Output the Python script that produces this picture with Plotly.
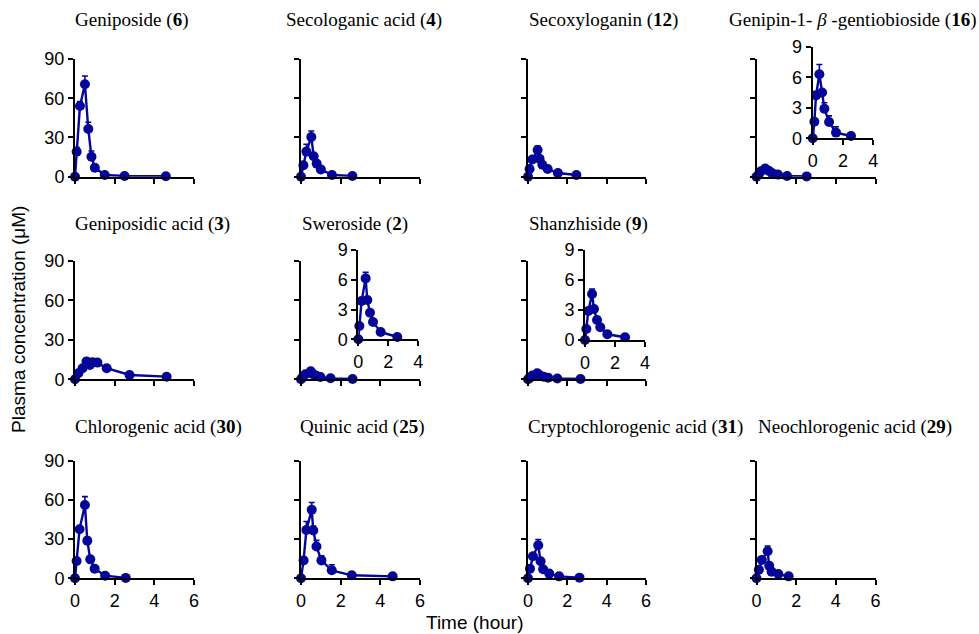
import plotly.graph_objects as go

W, H = 979, 634

# ---------------- data (time in hour, concentration in uM, SD) ----------------
t_geniposide = [0, 0.083, 0.25, 0.5, 0.67, 0.83, 1.0, 1.5, 2.5, 4.58]
c_geniposide = [0, 19.1, 54.0, 70.7, 36.5, 15.3, 6.9, 1.3, 0.5, 0.4]
e_geniposide = [0, 3.3, 3.4, 6.3, 5.1, 4.4, 2.1, 0.8, 0.3, 0.3]

t_secologanic = [0, 0.12, 0.27, 0.52, 0.64, 0.79, 1.0, 1.56, 2.59]
c_secologanic = [0, 8.7, 19.2, 30.4, 15.6, 10.0, 5.6, 1.3, 0.5]
e_secologanic = [0, 1.5, 5.6, 4.6, 1.5, 1.2, 0.8, 0.3, 0.2]

t_secoxyloganin = [0, 0.08, 0.22, 0.49, 0.59, 0.73, 1.0, 1.52, 2.46]
c_secoxyloganin = [0, 5.9, 13.2, 20.4, 13.7, 9.2, 5.9, 2.8, 1.3]
e_secoxyloganin = [0, 1.0, 1.5, 3.0, 1.5, 1.0, 0.7, 0.4, 0.2]

t_genipin = [0, 0.11, 0.22, 0.44, 0.62, 0.77, 1.08, 1.54, 2.53]
c_genipin = [0, 1.63, 4.2, 6.3, 4.5, 2.9, 1.6, 0.56, 0.23]
e_genipin = [0, 0.3, 0.4, 0.95, 0.2, 0.6, 0.6, 0.58, 0.1]

t_geniposidic = [0, 0.17, 0.38, 0.58, 0.75, 0.88, 1.13, 1.6, 2.75, 4.62]
c_geniposidic = [0, 4.6, 8.4, 13.5, 10.9, 12.9, 12.7, 8.4, 3.3, 2.0]
e_geniposidic = [0, 1.0, 1.5, 2.5, 2.0, 2.0, 2.0, 1.5, 0.5, 0.4]

t_sweroside = [0, 0.07, 0.22, 0.49, 0.6, 0.78, 0.98, 1.49, 2.6]
c_sweroside = [0, 1.34, 3.86, 6.14, 3.96, 2.68, 1.74, 0.74, 0.23]
e_sweroside = [0, 0.2, 0.3, 0.6, 0.3, 0.3, 0.25, 0.15, 0.05]

t_shanzhiside = [0, 0.09, 0.22, 0.47, 0.6, 0.8, 1.02, 1.49, 2.67]
c_shanzhiside = [0, 1.1, 2.9, 4.6, 3.1, 2.0, 1.27, 0.57, 0.27]
e_shanzhiside = [0, 0.15, 0.2, 0.5, 0.3, 0.25, 0.2, 0.1, 0.05]

t_chlorogenic = [0, 0.08, 0.23, 0.5, 0.62, 0.77, 0.99, 1.52, 2.56]
c_chlorogenic = [0, 13.3, 37.5, 56.1, 28.8, 14.5, 7.4, 2.0, 0.3]
e_chlorogenic = [0, 1.0, 1.5, 6.4, 2.6, 2.5, 1.2, 0.5, 0.1]

t_quinic = [0, 0.13, 0.27, 0.54, 0.62, 0.78, 1.03, 1.55, 2.56, 4.62]
c_quinic = [0, 13.7, 36.9, 52.4, 36.6, 24.4, 13.7, 6.1, 2.3, 1.5]
e_quinic = [0, 2.3, 6.6, 5.6, 3.3, 4.6, 3.6, 4.3, 0.8, 0.4]

t_crypto = [0, 0.1, 0.25, 0.52, 0.64, 0.77, 1.08, 1.58, 2.62]
c_crypto = [0, 7.4, 16.9, 25.3, 13.0, 6.9, 3.6, 1.5, 0.5]
e_crypto = [0, 0.8, 1.5, 4.4, 1.5, 0.8, 0.4, 0.2, 0.1]

t_neo = [0, 0.12, 0.27, 0.56, 0.64, 0.76, 1.1, 1.62]
c_neo = [0, 6.6, 14.1, 20.7, 9.6, 5.1, 3.3, 1.5]
e_neo = [0, 0.8, 1.0, 4.0, 1.5, 0.8, 0.4, 0.2]

titles = [
    "Geniposide (<b>6</b>)", "Secologanic acid (<b>4</b>)", "Secoxyloganin (<b>12</b>)",
    "Genipin-1- <i>β</i> -gentiobioside (<b>16</b>)",
    "Geniposidic acid (<b>3</b>)", "Sweroside (<b>2</b>)", "Shanzhiside (<b>9</b>)",
    "Chlorogenic acid (<b>30</b>)", "Quinic acid (<b>25</b>)",
    "Cryptochlorogenic acid (<b>31</b>)", "Neochlorogenic acid (<b>29</b>)",
]

x_ticks_main = [0, 2, 4, 6]
y_ticks_main = [0, 30, 60, 90]
x_ticks_inset = [0, 2, 4]
y_ticks_inset = [0, 3, 6, 9]

# panel: (row, col, t, c, e, has_inset, title_x_px)
panels = [
    (0, 0, t_geniposide, c_geniposide, e_geniposide, False, 73),
    (0, 1, t_secologanic, c_secologanic, e_secologanic, False, 284),
    (0, 2, t_secoxyloganin, c_secoxyloganin, e_secoxyloganin, False, 527),
    (0, 3, t_genipin, c_genipin, e_genipin, True, 727),
    (1, 0, t_geniposidic, c_geniposidic, e_geniposidic, False, 73),
    (1, 1, t_sweroside, c_sweroside, e_sweroside, True, 300),
    (1, 2, t_shanzhiside, c_shanzhiside, e_shanzhiside, True, 527),
    (2, 0, t_chlorogenic, c_chlorogenic, e_chlorogenic, False, 73),
    (2, 1, t_quinic, c_quinic, e_quinic, False, 298),
    (2, 2, t_crypto, c_crypto, e_crypto, False, 526),
    (2, 3, t_neo, c_neo, e_neo, False, 756),
]

# layout geometry in pixels
col_x = [(75, 194), (301, 420), (528, 646), (756.5, 875.5)]
row_y = [(176.7, 59), (379.3, 261), (578.3, 460.7)]      # (y of 0, y of 90)
title_y = [20, 224, 427]
inset_geom = {  # (x0,x4,y0,y9)
    (0, 3): (812.7, 873.3, 138.3, 46.7),
    (1, 1): (358.3, 418.3, 339.3, 250),
    (1, 2): (585, 645, 340, 250),
}

COLOR = "#05059a"
fig = go.Figure()
layout = {}
annotations = []

def fx(px):
    return px / W

def fy(py):
    return 1 - py / H

def axis_common(size):
    return dict(showline=True, linewidth=2, linecolor="black", ticks="outside",
                ticklen=5, tickwidth=1.6, tickcolor="black", showgrid=False,
                zeroline=False, fixedrange=True, automargin=False,
                tickfont=dict(family="Liberation Sans, Arial", size=size, color="black"))

ax_i = 0

def add_axes(xdom, ydom, xr, yr, xt, yt, showx, showy, tick_size, t, c, e):
    global ax_i
    ax_i += 1
    sfx = "" if ax_i == 1 else str(ax_i)
    xa = axis_common(tick_size)
    xa.update(domain=xdom, range=xr, tickvals=xt, showticklabels=showx,
              anchor="y" + sfx)
    ya = axis_common(tick_size)
    ya.update(domain=ydom, range=yr, tickvals=yt, showticklabels=showy,
              anchor="x" + sfx)
    layout["xaxis" + sfx] = xa
    layout["yaxis" + sfx] = ya
    fig.add_trace(go.Scatter(
        x=t, y=c, mode="lines+markers", xaxis="x" + sfx, yaxis="y" + sfx,
        line=dict(color=COLOR, width=2.4),
        marker=dict(color=COLOR, size=10),
        error_y=dict(type="data", array=e, arrayminus=[0] * len(e), symmetric=False,
                     color=COLOR, thickness=1.6, width=3),
        cliponaxis=False, showlegend=False, hoverinfo="skip"))

for (r, cidx, t, c, e, inset, tx) in panels:
    x0, x6 = col_x[cidx]
    y0, y90 = row_y[r]
    add_axes([fx(x0), fx(x6)], [fy(y0), fy(y90)], [0, 6], [0, 90],
             x_ticks_main, y_ticks_main, r == 2, cidx == 0, 18, t, c, e)
    if inset:
        ix0, ix4, iy0, iy9 = inset_geom[(r, cidx)]
        add_axes([fx(ix0), fx(ix4)], [fy(iy0), fy(iy9)], [0, 4], [0, 9],
                 x_ticks_inset, y_ticks_inset, True, True, 18, t, c, e)

for (r, cidx, t, c, e, inset, tx), title in zip(panels, titles):
    annotations.append(dict(
        text=title, x=fx(tx), y=fy(title_y[r]), xref="paper", yref="paper",
        xanchor="left", yanchor="middle", showarrow=False,
        font=dict(family="Liberation Serif, Times New Roman", size=19, color="black")))

annotations.append(dict(
    text="Plasma concentration (μM)", x=fx(18), y=fy(320), xref="paper", yref="paper",
    xanchor="center", yanchor="middle", showarrow=False, textangle=-90,
    font=dict(family="Liberation Sans, Arial", size=19, color="black")))
annotations.append(dict(
    text="Time (hour)", x=fx(474), y=fy(622), xref="paper", yref="paper",
    xanchor="center", yanchor="middle", showarrow=False,
    font=dict(family="Liberation Sans, Arial", size=19, color="black")))

fig.update_layout(template="none", width=W, height=H,
                  margin=dict(l=0, r=0, t=0, b=0, pad=0, autoexpand=False),
                  paper_bgcolor="white", plot_bgcolor="white",
                  annotations=annotations, **layout)

fig.write_html("out.html", config={"displayModeBar": False},
               post_script="document.body.style.margin='0';document.body.style.overflow='hidden';")
